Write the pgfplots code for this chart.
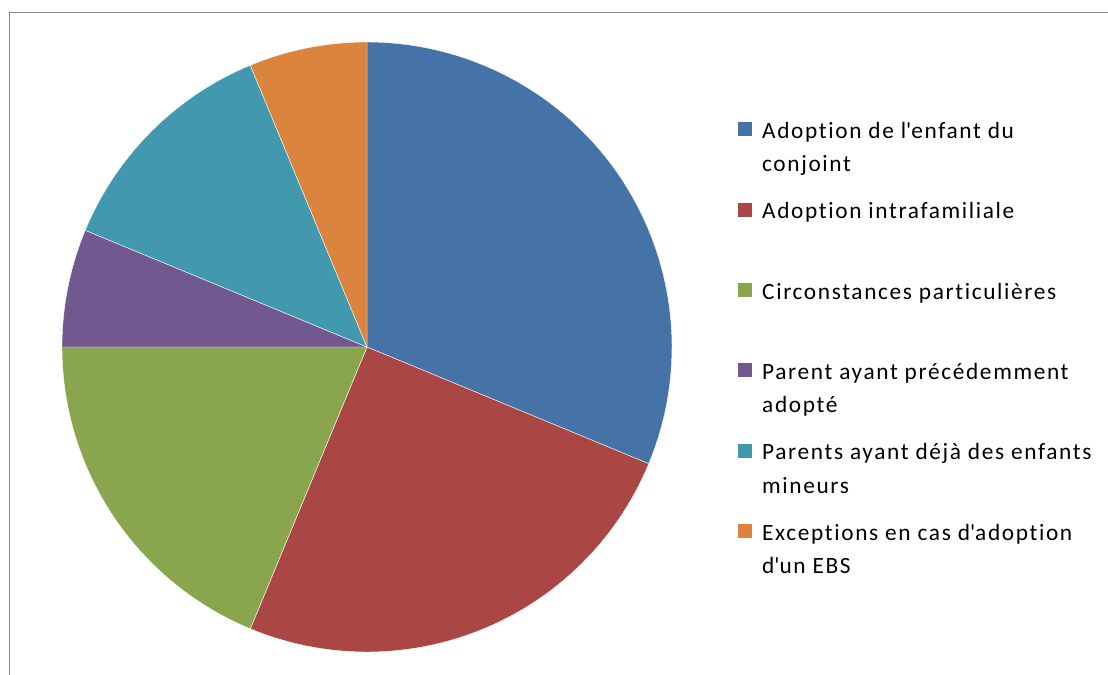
\documentclass[border=0pt]{standalone}
\usepackage{fontspec}
\setmainfont{Carlito}[LetterSpace=7, Ligatures={NoCommon,NoRare}]
\usepackage{pgfplots}
\usepackage{pgfplotstable}
\pgfplotsset{compat=1.18}

\definecolor{pc0}{HTML}{4572A7}
\definecolor{pc1}{HTML}{AA4643}
\definecolor{pc2}{HTML}{89A54E}
\definecolor{pc3}{HTML}{71588F}
\definecolor{pc4}{HTML}{4198AF}
\definecolor{pc5}{HTML}{DB843D}
\definecolor{frame}{RGB}{136,136,136}

% counts per category, clockwise from 12 o'clock
\pgfplotstableread{
value
5
4
3
1
2
1
}\piedata

\newcommand\entry[1]{\parbox[t]{260pt}{\fontsize{17.5}{25}\selectfont #1}}

\begin{document}
\begin{tikzpicture}
% start/end angle of each slice
\gdef\sumval{0}
\foreach \i in {0,...,5}{%
  \pgfplotstablegetelem{\i}{value}\of\piedata
  \pgfmathparse{\sumval+\pgfplotsretval}\xdef\sumval{\pgfmathresult}}
\gdef\cumval{0}
\foreach \i in {0,...,5}{%
  \pgfplotstablegetelem{\i}{value}\of\piedata
  \pgfmathsetmacro\a{90-360*\cumval/\sumval}
  \pgfmathparse{\cumval+\pgfplotsretval}\xdef\cumval{\pgfmathresult}
  \pgfmathsetmacro\b{90-360*\cumval/\sumval}
  \expandafter\xdef\csname pieA\i\endcsname{\a}
  \expandafter\xdef\csname pieB\i\endcsname{\b}}
\begin{axis}[
  scale only axis, width=831pt, height=506.25pt,
  xmin=0, xmax=1108, ymin=0, ymax=675, y dir=reverse,
  hide axis, clip=false,
  legend style={draw=none, fill=none, inner sep=0pt, outer sep=0pt,
    at={(axis cs:738,119.2)}, anchor=north west,
    row sep=42.7pt, column sep=0pt,
    font=\fontsize{17.5}{25}\selectfont,
    cells={anchor=base west, inner sep=0pt}},
  legend image code/.code={%
    \fill[#1, draw=none] (0pt,1.5pt) rectangle (10.5pt,12pt);
    \path (16pt,1.5pt);},
]
\pgfplotsinvokeforeach{0,...,5}{
  \addplot[fill=pc#1, draw=white, line width=0.3pt, samples=60, variable=\t,
    domain=\csname pieB#1\endcsname:\csname pieA#1\endcsname]
    ({367+305*cos(\t)},{347-305*sin(\t)}) -- (axis cs:367,347) -- cycle;
}
\addlegendentry{\entry{Adoption de l\textquotesingle enfant du\newline conjoint}}
\addlegendentry{\entry{Adoption intrafamiliale}}
\addlegendentry{\entry{Circonstances particulières}}
\addlegendentry{\entry{Parent ayant précédemment\newline adopté}}
\addlegendentry{\entry{Parents ayant déjà des enfants\newline mineurs}}
\addlegendentry{\entry{Exceptions en cas d\textquotesingle adoption\newline d\textquotesingle un EBS}}
\draw[frame, line width=1.2pt] (axis cs:9.5,675) -- (axis cs:9.5,12.5) -- (axis cs:1108,12.5);
\coordinate (bbA) at (axis cs:0,675);
\coordinate (bbB) at (axis cs:1108,0);
\end{axis}
\pgfresetboundingbox
\path[use as bounding box] (bbA) rectangle (bbB);
\end{tikzpicture}
\end{document}
